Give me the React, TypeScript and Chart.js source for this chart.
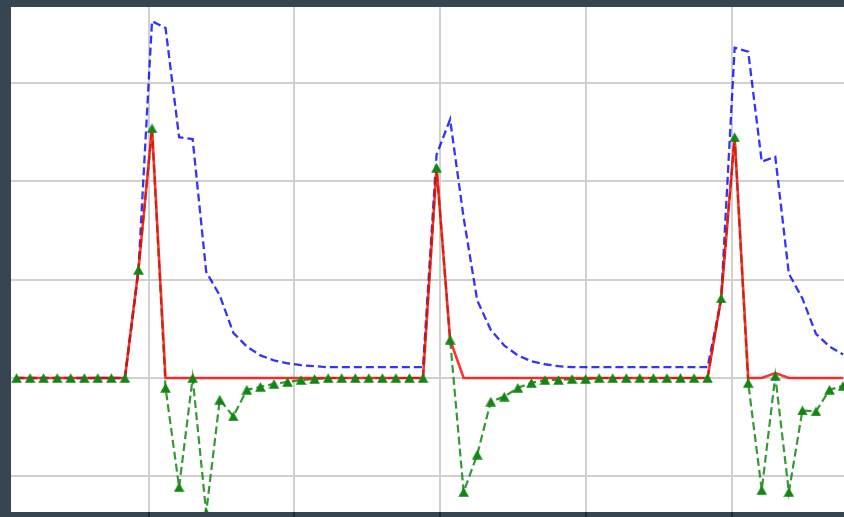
import React, { useEffect, useRef } from 'react';
import { Chart, registerables } from 'chart.js';

Chart.register(...registerables);

// sample index (time step)
const steps = [
  0, 1, 2, 3, 4, 5, 6, 7, 8, 9,
  10, 11, 12, 13, 14, 15, 16, 17, 18, 19,
  20, 21, 22, 23, 24, 25, 26, 27, 28, 29,
  30, 31, 32, 33, 34, 35, 36, 37, 38, 39,
  40, 41, 42, 43, 44, 45, 46, 47, 48, 49,
  50, 51, 52, 53, 54, 55, 56, 57, 58, 59,
  60, 61,
];

// red solid series
const inflow = [
  0, 0, 0, 0, 0, 0, 0, 0, 0, 1.1,
  2.54, 0, 0, 0, 0, 0, 0, 0, 0, 0,
  0, 0, 0, 0, 0, 0, 0, 0, 0, 0,
  0, 2.14, 0.39, 0, 0, 0, 0, 0, 0, 0,
  0, 0, 0, 0, 0, 0, 0, 0, 0, 0,
  0, 0, 0.81, 2.45, 0, 0, 0.05, 0, 0, 0,
  0, 0,
];

// blue dashed series
const response = [
  0, 0, 0, 0, 0, 0, 0, 0, 0, 1.1,
  3.63, 3.56, 2.45, 2.43, 1.08, 0.84, 0.46, 0.32, 0.23, 0.18,
  0.15, 0.13, 0.12, 0.11, 0.11, 0.11, 0.11, 0.11, 0.11, 0.11,
  0.11, 2.27, 2.63, 1.63, 0.79, 0.49, 0.33, 0.23, 0.17, 0.14,
  0.12, 0.11, 0.11, 0.11, 0.11, 0.11, 0.11, 0.11, 0.11, 0.11,
  0.11, 0.11, 0.79, 3.36, 3.32, 2.2, 2.25, 1.06, 0.81, 0.45,
  0.32, 0.24,
];

// green dashed series with triangle markers
const change = [
  0, 0, 0, 0, 0, 0, 0, 0, 0, 1.1,
  2.54, -0.1, -1.11, 0, -1.37, -0.22, -0.39, -0.12, -0.09, -0.06,
  -0.04, -0.02, -0.01, 0, 0, 0, 0, 0, 0, 0,
  0, 2.14, 0.39, -1.16, -0.78, -0.24, -0.19, -0.1, -0.05, -0.02,
  -0.02, -0.01, -0.01, 0, 0, 0, 0, 0, 0, 0,
  0, 0, 0.81, 2.45, -0.05, -1.14, 0.02, -1.16, -0.33, -0.34,
  -0.12, -0.08,
];

const xGridTicks = [9.742, 20.502, 31.262, 42.022, 52.782];
const yGridTicks = [-1, 0, 1, 2, 3];
const xMin = -0.406;
const xMax = 61.07;
const yMin = -1.363;
const yMax = 3.774;

function makeTriangle(): HTMLCanvasElement {
  const c = document.createElement('canvas');
  c.width = 11;
  c.height = 10;
  const ctx = c.getContext('2d')!;
  ctx.fillStyle = '#128612';
  ctx.beginPath();
  ctx.moveTo(5.5, 0.2);
  ctx.lineTo(10.8, 9.8);
  ctx.lineTo(0.2, 9.8);
  ctx.closePath();
  ctx.fill();
  return c;
}

const plotBackground = {
  id: 'plotBackground',
  beforeDraw(chart: any) {
    const { ctx, chartArea } = chart;
    ctx.save();
    ctx.fillStyle = '#ffffff';
    ctx.fillRect(
      chartArea.left,
      chartArea.top,
      chartArea.right - chartArea.left,
      chartArea.bottom - chartArea.top
    );
    ctx.restore();
  },
};

export default function App() {
  const ref = useRef<HTMLCanvasElement | null>(null);

  useEffect(() => {
    const canvas = ref.current;
    if (!canvas) return;
    const tri = makeTriangle();
    const pts = (vals: number[]) => steps.map((x, i) => ({ x, y: vals[i] }));
    const gridColor = 'rgb(208,208,208)';

    const chart = new Chart(canvas, {
      type: 'line',
      plugins: [plotBackground],
      data: {
        datasets: [
          {
            label: 'change markers',
            data: pts(change),
            showLine: false,
            pointStyle: tri as any,
            pointRadius: 5,
            pointHoverRadius: 5,
            order: 0,
          },
          {
            label: 'inflow',
            data: pts(inflow),
            borderColor: 'rgba(255,0,0,0.8)',
            borderWidth: 2.6,
            pointRadius: 0,
            fill: false,
            tension: 0,
            order: 1,
          },
          {
            label: 'change',
            data: pts(change),
            borderColor: 'rgba(0,128,0,0.8)',
            borderWidth: 2.2,
            borderDash: [8, 4],
            pointRadius: 0,
            fill: false,
            tension: 0,
            order: 2,
          },
          {
            label: 'response',
            data: pts(response),
            borderColor: 'rgba(0,0,255,0.8)',
            borderWidth: 2.3,
            borderDash: [8, 4],
            pointRadius: 0,
            fill: false,
            tension: 0,
            order: 3,
          },
        ],
      },
      options: {
        animation: false,
        responsive: false,
        devicePixelRatio: 1,
        layout: {
          autoPadding: false,
          padding: { left: 11, top: 7, right: 0, bottom: 0 },
        },
        plugins: {
          legend: { display: false },
          tooltip: { enabled: false },
        },
        events: [],
        scales: {
          x: {
            type: 'linear',
            min: xMin,
            max: xMax,
            afterBuildTicks: (s: any) => {
              s.ticks = xGridTicks.map((v) => ({ value: v }));
            },
            ticks: { display: false },
            grid: {
              color: gridColor,
              lineWidth: 2,
              drawTicks: true,
              tickLength: 5,
              tickColor: '#1f2a30',
            },
            border: { display: false },
          },
          y: {
            type: 'linear',
            min: yMin,
            max: yMax,
            afterBuildTicks: (s: any) => {
              s.ticks = yGridTicks.map((v) => ({ value: v }));
            },
            ticks: { display: false },
            grid: { color: gridColor, lineWidth: 2, drawTicks: false },
            border: { display: false },
          },
        },
      },
    });
    return () => chart.destroy();
  }, []);

  return (
    <div
      style={{
        position: 'fixed',
        left: 0,
        top: 0,
        width: 844,
        height: 517,
        background: '#36454f',
      }}
    >
      <canvas
        ref={ref}
        width={844}
        height={517}
        style={{ display: 'block', width: 844, height: 517 }}
      />
    </div>
  );
}
